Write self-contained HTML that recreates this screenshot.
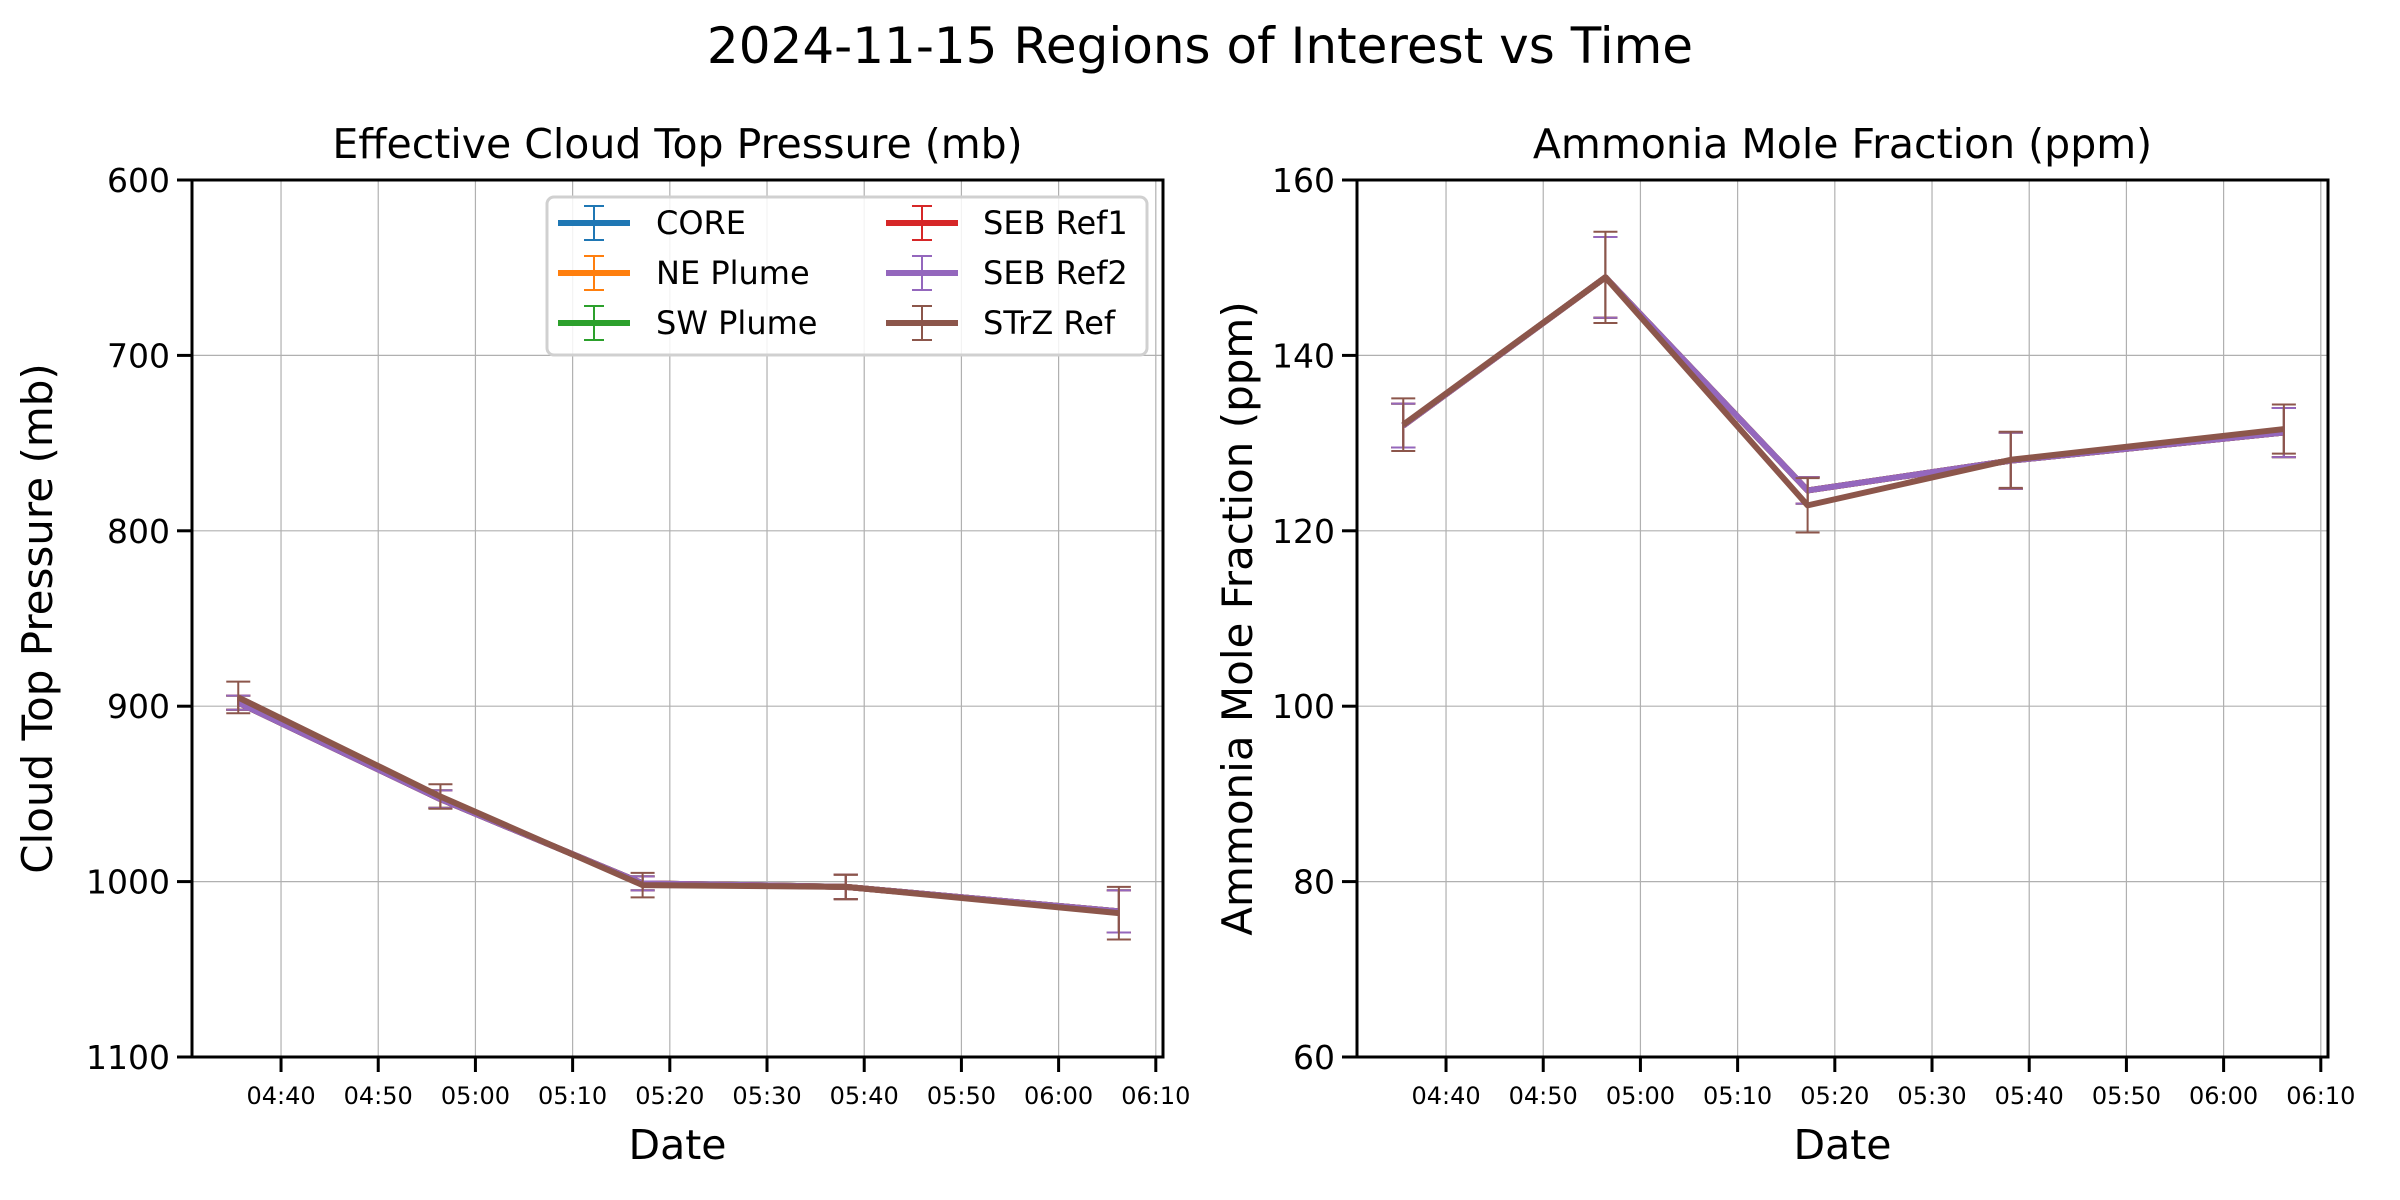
<!DOCTYPE html>
<html><head><meta charset="utf-8"><style>
html,body{margin:0;padding:0;background:#fff;}
svg{display:block;font-family:"DejaVu Sans","Liberation Sans",sans-serif;}
</style></head><body>
<svg id="fig" width="2400" height="1200" viewBox="0 0 2400 1200">
<text x="1200" y="63" font-size="50" text-anchor="middle">2024-11-15 Regions of Interest vs Time</text>
</svg>
<script>
// times in minutes since 04:00
const times = [35.6, 56.4, 77.2, 98.1, 126.2];
const seriesNames = ["CORE","NE Plume","SW Plume","SEB Ref1","SEB Ref2","STrZ Ref"];
const seriesColors = ["#1f77b4","#ff7f0e","#2ca02c","#d62728","#9467bd","#8c564b"];
const pCommon = [898, 953, 1001, 1003, 1017];
const pCommonErr = [4, 5, 4, 7, 12];
const pStrz = [895, 951.5, 1002, 1003, 1018];
const pStrzErr = [9, 7, 7, 7, 15];
const aCommon = [132.0, 148.9, 124.6, 128.0, 131.2];
const aCommonErr = [2.5, 4.6, 1.5, 3.2, 2.8];
const aStrz = [132.1, 148.9, 122.9, 128.1, 131.6];
const aStrzErr = [3.0, 5.2, 3.1, 3.2, 2.8];
const pTicks = [600, 700, 800, 900, 1000, 1100];
const aTicks = [60, 80, 100, 120, 140, 160];
const xTickMins = [40, 50, 60, 70, 80, 90, 100, 110, 120, 130];
const xTickLabels = ["04:40","04:50","05:00","05:10","05:20","05:30","05:40","05:50","06:00","06:10"];

const NS = "http://www.w3.org/2000/svg";
const fig = document.getElementById("fig");
function el(tag, attrs, parent){ const e=document.createElementNS(NS,tag); for(const k in attrs) e.setAttribute(k,attrs[k]); (parent||fig).appendChild(e); return e; }

function panel(opt){
  const L=opt.left, R=opt.left+971, T=180, B=1057;
  const X0=30.84, X1=130.74;
  const xs = t => L + (t-X0)/(X1-X0)*(R-L);
  const ys = v => opt.invert ? T + (v-opt.ymin)/(opt.ymax-opt.ymin)*(B-T) : B - (v-opt.ymin)/(opt.ymax-opt.ymin)*(B-T);
  const g = el("g",{});
  
  
  xTickMins.forEach((m,i)=>{
    const x=xs(m);
    const gl=el("line",{x1:x,x2:x,y1:T,y2:B,stroke:"#b0b0b0","stroke-width":1.2},g);
    
    
    const tk=el("line",{x1:x,x2:x,y1:B,y2:B+15,stroke:"#000","stroke-width":3},g);
    
    
    const tl=el("text",{x:x,y:B+47,"font-size":24,"text-anchor":"middle"},g);
    tl.textContent=xTickLabels[i];
    
    
  });
  opt.ticks.forEach(v=>{
    const y=ys(v);
    const gl=el("line",{x1:L,x2:R,y1:y,y2:y,stroke:"#b0b0b0","stroke-width":1.2},g);
    
    
    const tk=el("line",{x1:L-15,x2:L,y1:y,y2:y,stroke:"#000","stroke-width":3},g);
    
    
    const tl=el("text",{x:L-22,y:y+12,"font-size":33,"text-anchor":"end"},g);
    tl.textContent=v;
    
    
  });
  seriesNames.forEach((nm,si)=>{
    const vals = si===5 ? opt.vs : opt.vc;
    const errs = si===5 ? opt.es : opt.ec;
    const sg=el("g",{},g);
    
    
    vals.forEach((v,i)=>{
      const x=xs(times[i]), y1=ys(v-errs[i]), y2=ys(v+errs[i]);
      const eb=el("path",{d:`M${x},${y1}V${y2}M${x-12},${y1}H${x+12}M${x-12},${y2}H${x+12}`,stroke:seriesColors[si],"stroke-width":2,fill:"none"},sg);
      
      
    });
    const pts=vals.map((v,i)=>xs(times[i])+","+ys(v)).join(" ");
    const ln=el("polyline",{points:pts,stroke:seriesColors[si],"stroke-width":6,fill:"none","stroke-linejoin":"round"},sg);
    
    
  });
  const fr=el("rect",{x:L,y:T,width:R-L,height:B-T,fill:"none",stroke:"#000","stroke-width":3},g);
  
  
  const tt=el("text",{x:(L+R)/2,y:158,"font-size":41,"text-anchor":"middle"},g);
  tt.textContent=opt.title;
  
  
  const xl=el("text",{x:(L+R)/2,y:1159,"font-size":41,"text-anchor":"middle"},g);
  xl.textContent="Date";
  
  
  const yl=el("text",{x:0,y:0,"font-size":42,"text-anchor":"middle",transform:`translate(${opt.ylx},${(T+B)/2}) rotate(-90)`},g);
  yl.textContent=opt.ylabel;
  
  
}
panel({name:"pressure-panel",left:192,ymin:600,ymax:1100,invert:true,ticks:pTicks,vc:pCommon,ec:pCommonErr,vs:pStrz,es:pStrzErr,title:"Effective Cloud Top Pressure (mb)",ylabel:"Cloud Top Pressure (mb)",ylx:52});
panel({name:"ammonia-panel",left:1357,ymin:60,ymax:160,invert:false,ticks:aTicks,vc:aCommon,ec:aCommonErr,vs:aStrz,es:aStrzErr,title:"Ammonia Mole Fraction (ppm)",ylabel:"Ammonia Mole Fraction (ppm)",ylx:1252});

const lg=el("g",{});


el("rect",{x:547,y:197,width:600,height:158,rx:7,fill:"#fff","fill-opacity":0.85,stroke:"#d0d0d0","stroke-width":3},lg);
seriesNames.forEach((nm,i)=>{
  const col=Math.floor(i/3), row=i%3;
  const hx = col===0 ? 594 : 922;
  const tx = col===0 ? 656 : 983;
  const y = 223 + row*50;
  const e=el("g",{},lg);
  
  
  el("line",{x1:hx-36,x2:hx+36,y1:y,y2:y,stroke:seriesColors[i],"stroke-width":6},e);
  el("path",{d:`M${hx},${y-17}V${y+17}M${hx-10},${y-17}H${hx+10}M${hx-10},${y+17}H${hx+10}`,stroke:seriesColors[i],"stroke-width":2,fill:"none"},e);
  const t=el("text",{x:tx,y:y+11,"font-size":32},e);
  t.textContent=nm;
});
</script>
</body></html>
